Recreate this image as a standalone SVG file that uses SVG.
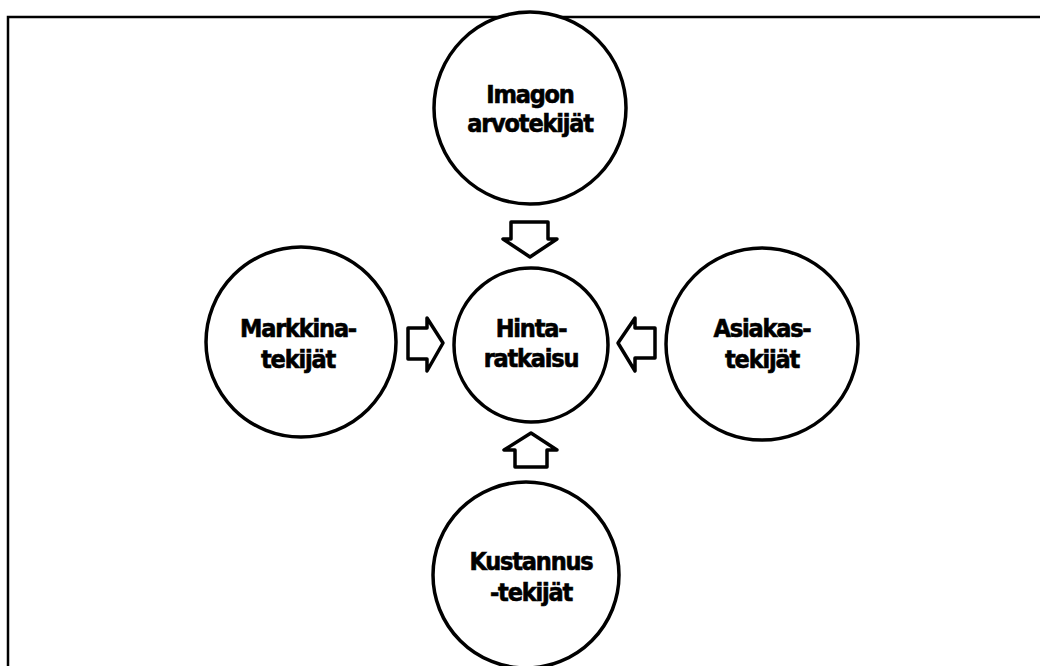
<svg xmlns="http://www.w3.org/2000/svg" width="1040" height="666" viewBox="0 0 1040 666">
  <style>
    .node circle { fill: #ffffff; stroke: #000000; stroke-width: 3.5; }
    .node text { font-family: "DejaVu Sans Condensed", "DejaVu Sans", sans-serif; font-stretch: condensed; font-weight: bold; font-size: 25px; letter-spacing: -1.2px; fill: #000000; stroke: #000000; stroke-width: 0.6; text-anchor: middle; }
    .arrow { fill: #ffffff; stroke: #000000; stroke-width: 3.5; stroke-linejoin: round; }
  </style>
  <rect x="0" y="0" width="1040" height="666" fill="#ffffff"/>
  <!-- frame -->
  <path d="M 8 666 L 8 17 L 1040 17" fill="none" stroke="#000000" stroke-width="2.5"/>

  <g id="connectors">
    <!-- down arrow from top circle -->
    <path class="arrow" d="M 511 222 L 548 222 L 548 239 L 557 239 L 530 257 L 503 239 L 511 239 Z"/>
    <!-- right arrow from left circle -->
    <path class="arrow" d="M 408 328 L 427 328 L 427 318 L 443 343 L 427 371 L 427 359 L 408 359 Z"/>
    <!-- left arrow from right circle -->
    <path class="arrow" d="M 655 328 L 635 328 L 635 318 L 618 343 L 635 371 L 635 358 L 655 358 Z"/>
    <!-- up arrow from bottom circle -->
    <path class="arrow" d="M 515 467 L 547 467 L 547 450 L 557 450 L 531 433 L 504 450 L 515 450 Z"/>
  </g>

  <g id="node-imagon" class="node">
    <circle cx="530" cy="108" r="96"/>
    <text x="530" y="103">Imagon</text>
    <text x="530" y="132">arvotekijät</text>
  </g>
  <g id="node-hinta" class="node">
    <circle cx="531" cy="345" r="77"/>
    <text x="531" y="337">Hinta-</text>
    <text x="531" y="367">ratkaisu</text>
  </g>
  <g id="node-markkina" class="node">
    <circle cx="301" cy="342" r="95"/>
    <text x="298" y="337">Markkina-</text>
    <text x="298" y="368">tekijät</text>
  </g>
  <g id="node-asiakas" class="node">
    <circle cx="762" cy="344" r="96"/>
    <text x="762" y="337">Asiakas-</text>
    <text x="762" y="368">tekijät</text>
  </g>
  <g id="node-kustannus" class="node">
    <circle cx="526" cy="575" r="93"/>
    <text x="531" y="570">Kustannus</text>
    <text x="531" y="601">-tekijät</text>
  </g>
</svg>
